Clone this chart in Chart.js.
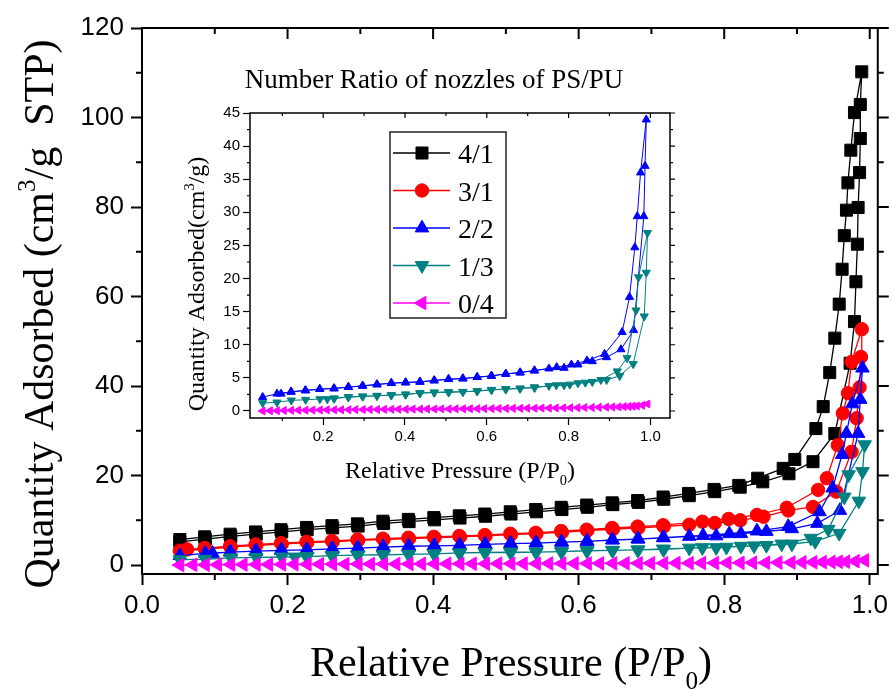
<!DOCTYPE html>
<html>
<head>
<meta charset="utf-8">
<script src="https://cdn.jsdelivr.net/npm/chart.js@4.4.1/dist/chart.umd.min.js"></script>
<style>
  html, body { margin: 0; padding: 0; background: #fff; }
  #wrap { position: relative; width: 893px; height: 691px; }
  #wrap canvas { position: absolute; left: 0; top: 0; }
</style>
</head>
<body>
<div id="wrap">
  <canvas id="main" width="893" height="691"></canvas>
  <canvas id="inset" width="893" height="691"></canvas>
</div>
<script>
// ---- data: [relative pressure, quantity adsorbed], adsorption branch then desorption branch
const seriesNames = ["4/1", "3/1", "2/2", "1/3", "0/4"];

const iso41 = [
  [0.052,5.2],[0.087,5.8],[0.122,6.4],[0.157,6.9],[0.192,7.4],[0.227,7.9],[0.262,8.3],[0.297,8.7],
  [0.332,9.3],[0.367,9.7],[0.402,10.1],[0.437,10.5],[0.472,10.9],[0.507,11.4],[0.542,11.9],[0.577,12.4],
  [0.612,12.9],[0.647,13.5],[0.682,14.0],[0.717,14.7],[0.752,15.5],[0.787,16.4],[0.822,17.4],[0.853,18.6],
  [0.889,20.4],[0.922,23.1],[0.952,29.4],[0.973,45.1],[0.979,54.4],[0.981,63.3],[0.983,71.7],[0.984,79.9],
  [0.986,87.7],[0.987,95.3],[0.987,102.9],[0.989,110.2],
  [0.979,101.1],[0.974,92.7],[0.970,85.4],[0.968,79.3],[0.965,73.6],[0.962,66.1],[0.958,58.3],[0.952,50.7],
  [0.945,43.0],[0.936,35.4],[0.926,30.5],[0.897,23.6],[0.881,21.6],[0.846,19.4],[0.820,17.8],[0.786,16.9],
  [0.751,16.0],[0.716,15.2],[0.681,14.4],[0.646,13.9],[0.611,13.4],[0.576,12.9],[0.541,12.4],[0.506,11.9],
  [0.471,11.4],[0.436,11.0],[0.401,10.6],[0.366,10.2],[0.331,9.8],[0.296,9.2],[0.261,8.8],[0.226,8.4],
  [0.191,7.9],[0.156,7.4],[0.121,6.9],[0.086,6.3],[0.052,5.7]
];

const iso31 = [
  [0.052,3.2],[0.087,3.5],[0.122,4.0],[0.157,4.4],[0.192,4.7],[0.227,5.0],[0.262,5.2],[0.297,5.5],
  [0.332,5.7],[0.367,5.9],[0.402,6.1],[0.437,6.3],[0.472,6.5],[0.507,6.8],[0.542,7.0],[0.577,7.3],
  [0.612,7.7],[0.647,8.0],[0.682,8.3],[0.717,8.6],[0.752,9.0],[0.787,9.4],[0.822,10.0],[0.854,10.8],
  [0.888,12.2],[0.922,13.0],[0.954,16.4],[0.975,25.3],[0.982,32.8],[0.986,39.7],[0.988,46.5],[0.989,52.7],
  [0.975,45.4],[0.970,38.4],[0.963,33.9],[0.956,26.8],[0.941,19.4],[0.929,16.8],[0.886,12.8],[0.845,11.2],
  [0.806,10.3],[0.770,9.7],[0.716,8.9],[0.681,8.6],[0.646,8.3],[0.611,7.9],[0.576,7.6],[0.541,7.2],
  [0.506,7.0],[0.471,6.7],[0.436,6.5],[0.401,6.3],[0.366,6.1],[0.331,5.9],[0.296,5.7],[0.261,5.4],
  [0.226,5.2],[0.191,4.9],[0.156,4.6],[0.121,4.2],[0.086,3.8],[0.062,3.5]
];

const iso22 = [
  [0.052,2.1],[0.087,2.6],[0.122,2.9],[0.157,3.1],[0.192,3.3],[0.227,3.4],[0.262,3.6],[0.297,3.8],
  [0.332,4.0],[0.367,4.2],[0.402,4.3],[0.437,4.4],[0.472,4.6],[0.507,4.8],[0.542,4.9],[0.577,5.1],
  [0.612,5.3],[0.647,5.6],[0.682,5.8],[0.717,6.1],[0.752,6.4],[0.789,6.5],[0.823,7.0],[0.858,7.5],
  [0.893,8.1],[0.928,9.3],[0.959,12.2],[0.984,29.4],[0.987,37.0],[0.990,44.0],
  [0.976,36.0],[0.968,29.4],[0.962,24.7],[0.949,17.2],[0.931,11.9],[0.888,8.6],[0.845,7.6],[0.807,7.0],
  [0.771,6.6],[0.716,6.1],[0.681,5.8],[0.646,5.6],[0.611,5.3],[0.576,5.1],[0.541,4.9],[0.506,4.8],
  [0.471,4.6],[0.436,4.4],[0.401,4.3],[0.366,4.2],[0.331,4.0],[0.296,3.8],[0.261,3.6],[0.226,3.4],
  [0.191,3.3],[0.156,3.1],[0.121,2.9],[0.097,2.6]
];

const iso13 = [
  [0.052,1.2],[0.087,1.3],[0.122,1.6],[0.157,1.7],[0.192,1.8],[0.227,1.9],[0.262,2.1],[0.297,2.2],
  [0.332,2.3],[0.367,2.4],[0.402,2.5],[0.437,2.7],[0.472,2.8],[0.507,2.8],[0.542,2.9],[0.577,3.0],
  [0.612,3.2],[0.647,3.3],[0.682,3.4],[0.717,3.5],[0.752,3.8],[0.789,3.9],[0.823,4.2],[0.858,4.4],
  [0.893,4.7],[0.925,5.3],[0.958,7.1],[0.985,14.3],[0.990,20.9],[0.993,26.9],
  [0.971,20.2],[0.965,15.2],[0.943,8.0],[0.919,6.0],[0.879,4.7],[0.841,4.3],[0.803,4.0],[0.770,3.9],
  [0.716,3.6],[0.681,3.4],[0.646,3.3],[0.611,3.2],[0.576,3.0],[0.541,2.9],[0.506,2.9],[0.471,2.8],
  [0.436,2.7],[0.401,2.5],[0.366,2.4],[0.331,2.3],[0.296,2.2],[0.261,2.1],[0.226,1.9],[0.210,1.8]
];

const iso04 = [
  [0.052,0.0],[0.087,0.05],[0.122,0.1],[0.157,0.12],[0.192,0.15],[0.227,0.17],[0.262,0.19],[0.297,0.21],
  [0.332,0.23],[0.367,0.25],[0.402,0.27],[0.437,0.28],[0.472,0.3],[0.507,0.31],[0.542,0.33],[0.577,0.34],
  [0.612,0.36],[0.647,0.38],[0.682,0.4],[0.717,0.42],[0.752,0.44],[0.787,0.47],[0.822,0.5],[0.857,0.53],
  [0.892,0.57],[0.922,0.62],[0.947,0.68],[0.967,0.75],[0.993,1.05],
  [0.980,0.85],[0.957,0.72],[0.935,0.66],[0.907,0.6],[0.874,0.56],[0.839,0.52],[0.804,0.49],[0.769,0.46],
  [0.734,0.44],[0.699,0.42],[0.664,0.4],[0.629,0.38],[0.594,0.36],[0.559,0.35],[0.524,0.33],[0.489,0.32],
  [0.454,0.3],[0.419,0.29],[0.384,0.27],[0.349,0.25],[0.314,0.23],[0.279,0.21],[0.244,0.19],[0.209,0.17],
  [0.174,0.14],[0.139,0.12],[0.104,0.08],[0.07,0.04]
];

// tick values
const mainXMinor = [0.1, 0.3, 0.5, 0.7, 0.9];
const mainYMinor = [10, 30, 50, 70, 90, 110];
const insetXMinor = [0.1, 0.3, 0.5, 0.7, 0.9];
const insetYMinor = [2.5, 7.5, 12.5, 17.5, 22.5, 27.5, 32.5, 37.5, 42.5];

const SERIF = "'Liberation Serif', 'Times New Roman', serif";
const SANS = "'Liberation Sans', Arial, sans-serif";

const toXY = arr => arr.map(p => ({ x: p[0], y: p[1] }));

// marker styles per series
const styles = [
  { color: '#000000', pointStyle: 'rect', radius: 8.5, rotation: 0, insetRadius: 4.5 },
  { color: '#ff0000', pointStyle: 'circle', radius: 6.7, rotation: 0, insetRadius: 4 },
  { color: '#0000ff', pointStyle: 'triangle', radius: 7.8, rotation: 0, insetRadius: 4.7 },
  { color: '#008080', pointStyle: 'triangle', radius: 7.8, rotation: 180, insetRadius: 4.7 },
  { color: '#ff00ff', pointStyle: 'triangle', radius: 7.8, rotation: -90, insetRadius: 4.6 }
];
const isoData = [iso41, iso31, iso22, iso13, iso04];

function makeDataset(i, inset) {
  const s = styles[i];
  const r = inset ? s.insetRadius : s.radius;
  return {
    label: seriesNames[i],
    data: toXY(isoData[i]),
    showLine: true,
    borderColor: s.color,
    backgroundColor: s.color,
    borderWidth: inset ? 1 : 1.3,
    pointStyle: s.pointStyle,
    pointRotation: s.rotation,
    pointRadius: r,
    pointBorderWidth: 1,
    pointBorderColor: s.color,
    pointBackgroundColor: s.color,
    order: 5 - i
  };
}

// draws text made of runs (superscript / subscript)
function drawRich(ctx, it) {
  ctx.save();
  ctx.translate(it.x, it.y);
  if (it.rotate) ctx.rotate(it.rotate);
  ctx.fillStyle = '#000';
  ctx.textBaseline = 'alphabetic';
  ctx.textAlign = 'left';
  let w = 0;
  const runs = it.parts.map(p => {
    const f = (it.size * (p.k || 1)) + 'px ' + SERIF;
    ctx.font = f;
    const r = { text: p.t, font: f, dx: w, dy: (p.dy || 0) * it.size };
    w += ctx.measureText(p.t).width;
    return r;
  });
  const x0 = it.center ? -w / 2 : 0;
  runs.forEach(r => { ctx.font = r.font; ctx.fillText(r.text, x0 + r.dx, r.dy); });
  ctx.restore();
}

// box, mirrored ticks and minor ticks
function framePlugin(o) {
  return {
    id: 'frame',
    afterDraw(chart) {
      const { ctx, chartArea: a } = chart;
      const xs = chart.scales.x, ys = chart.scales.y;
      ctx.save();
      ctx.strokeStyle = '#000';
      ctx.lineWidth = o.width;
      ctx.strokeRect(a.left, a.top, a.right - a.left, a.bottom - a.top);
      ctx.lineWidth = o.tickWidth;
      ctx.beginPath();
      ys.ticks.forEach(t => {
        const py = ys.getPixelForValue(t.value);
        ctx.moveTo(a.right, py); ctx.lineTo(a.right + o.major, py);
      });
      xs.ticks.forEach(t => {
        const px = xs.getPixelForValue(t.value);
        ctx.moveTo(px, a.top); ctx.lineTo(px, a.top + o.major);
      });
      o.minorY.forEach(v => {
        const py = ys.getPixelForValue(v);
        ctx.moveTo(a.left, py); ctx.lineTo(a.left - o.minor, py);
        ctx.moveTo(a.right, py); ctx.lineTo(a.right + o.minor, py);
      });
      o.minorX.forEach(v => {
        const px = xs.getPixelForValue(v);
        ctx.moveTo(px, a.bottom); ctx.lineTo(px, a.bottom + o.minor);
        ctx.moveTo(px, a.top); ctx.lineTo(px, a.top + o.minor);
      });
      ctx.stroke();
      ctx.restore();
    }
  };
}

function textPlugin(items) {
  return { id: 'texts', afterDraw(chart) { items.forEach(it => drawRich(chart.ctx, it)); } };
}

// legend box sitting inside the inset
function legendPlugin(o) {
  return {
    id: 'boxLegend',
    afterDraw(chart) {
      const ctx = chart.ctx;
      ctx.save();
      ctx.strokeStyle = '#222';
      ctx.lineWidth = 1.5;
      ctx.strokeRect(o.left, o.top, o.width, o.height);
      chart.data.datasets.forEach((ds, i) => {
        const cy = o.firstRow + i * o.rowGap;
        ctx.strokeStyle = ds.borderColor;
        ctx.lineWidth = 1.3;
        ctx.beginPath();
        ctx.moveTo(o.left + 3, cy);
        ctx.lineTo(o.left + 60, cy);
        ctx.stroke();
        ctx.fillStyle = ds.backgroundColor;
        ctx.strokeStyle = ds.borderColor;
        ctx.lineWidth = 1;
        Chart.helpers.drawPoint(ctx, {
          pointStyle: ds.pointStyle, rotation: ds.pointRotation, radius: ds.pointRadius, borderWidth: 1
        }, o.left + 32, cy);
        ctx.fillStyle = '#000';
        ctx.font = o.fontSize + 'px ' + SERIF;
        ctx.textAlign = 'left';
        ctx.textBaseline = 'alphabetic';
        ctx.fillText(ds.label, o.left + 68, cy + 10);
      });
      ctx.restore();
    }
  };
}

Chart.defaults.font.family = SANS;
Chart.defaults.color = '#000';

const mainTexts = [
  { parts: [{ t: 'Quantity Adsorbed (cm' }, { t: '3', k: 0.6, dy: -0.42 }, { t: '/g  STP)' }],
    x: 53, y: 314, rotate: -Math.PI / 2, center: true, size: 42 },
  { parts: [{ t: 'Relative Pressure (P/P' }, { t: '0', k: 0.6, dy: 0.3 }, { t: ')' }],
    x: 511, y: 676, center: true, size: 42 }
];

const insetTexts = [
  { parts: [{ t: 'Number Ratio of nozzles of PS/PU' }], x: 434, y: 88, center: true, size: 27 },
  { parts: [{ t: 'Quantity Adsorbed(cm' }, { t: '3', k: 0.6, dy: -0.42 }, { t: '/g)' }],
    x: 204, y: 284, rotate: -Math.PI / 2, center: true, size: 24 },
  { parts: [{ t: 'Relative Pressure (P/P' }, { t: '0', k: 0.6, dy: 0.3 }, { t: ')' }],
    x: 460, y: 478, center: true, size: 24 }
];

new Chart(document.getElementById('main'), {
  type: 'scatter',
  data: { datasets: [0, 1, 2, 3, 4].map(i => makeDataset(i, false)) },
  options: {
    responsive: false,
    animation: false,
    events: [],
    layout: { padding: { top: 28, right: 15, left: 0, bottom: 0 } },
    plugins: { legend: { display: false }, tooltip: { enabled: false } },
    scales: {
      x: {
        type: 'linear', min: 0, max: 1.011,
        afterFit: s => { s.height = 117; },
        border: { display: false },
        grid: { drawOnChartArea: false, drawTicks: true, tickLength: 11, tickColor: '#000', tickWidth: 2 },
        ticks: { stepSize: 0.2, includeBounds: false, padding: 5, maxRotation: 0,
          font: { family: SANS, size: 26 }, callback: v => v.toFixed(1) }
      },
      y: {
        type: 'linear', min: -2, max: 120,
        afterFit: s => { s.width = 142; },
        border: { display: false },
        grid: { drawOnChartArea: false, drawTicks: true, tickLength: 11, tickColor: '#000', tickWidth: 2 },
        ticks: { stepSize: 20, includeBounds: false, padding: 7, font: { family: SANS, size: 26 } }
      }
    }
  },
  plugins: [
    framePlugin({ width: 2, tickWidth: 2, major: 11, minor: 6, minorX: mainXMinor, minorY: mainYMinor }),
    legendPlugin({ left: 390, top: 132, width: 116, height: 186, firstRow: 153, rowGap: 37.5, fontSize: 28 }),
    textPlugin(mainTexts)
  ]
});

new Chart(document.getElementById('inset'), {
  type: 'scatter',
  data: { datasets: [2, 3, 4].map(i => makeDataset(i, true)) },
  options: {
    responsive: false,
    animation: false,
    events: [],
    layout: { padding: { top: 113, right: 223, left: 0, bottom: 233 } },
    plugins: { legend: { display: false }, tooltip: { enabled: false } },
    scales: {
      x: {
        type: 'linear', min: 0.021, max: 1.048,
        afterFit: s => { s.height = 40; },
        border: { display: false },
        grid: { drawOnChartArea: false, drawTicks: true, tickLength: 7, tickColor: '#000', tickWidth: 1.2 },
        ticks: { stepSize: 0.2, includeBounds: false, padding: 3, maxRotation: 0,
          font: { family: SANS, size: 15 }, callback: v => v.toFixed(1) }
      },
      y: {
        type: 'linear', min: -1.06, max: 45,
        afterFit: s => { s.width = 250; },
        border: { display: false },
        grid: { drawOnChartArea: false, drawTicks: true, tickLength: 7, tickColor: '#000', tickWidth: 1.2 },
        ticks: { stepSize: 5, includeBounds: false, padding: 3, font: { family: SANS, size: 15 } }
      }
    }
  },
  plugins: [
    framePlugin({ width: 1.5, tickWidth: 1.2, major: 5, minor: 3, minorX: insetXMinor, minorY: insetYMinor }),
    textPlugin(insetTexts)
  ]
});
</script>
</body>
</html>
